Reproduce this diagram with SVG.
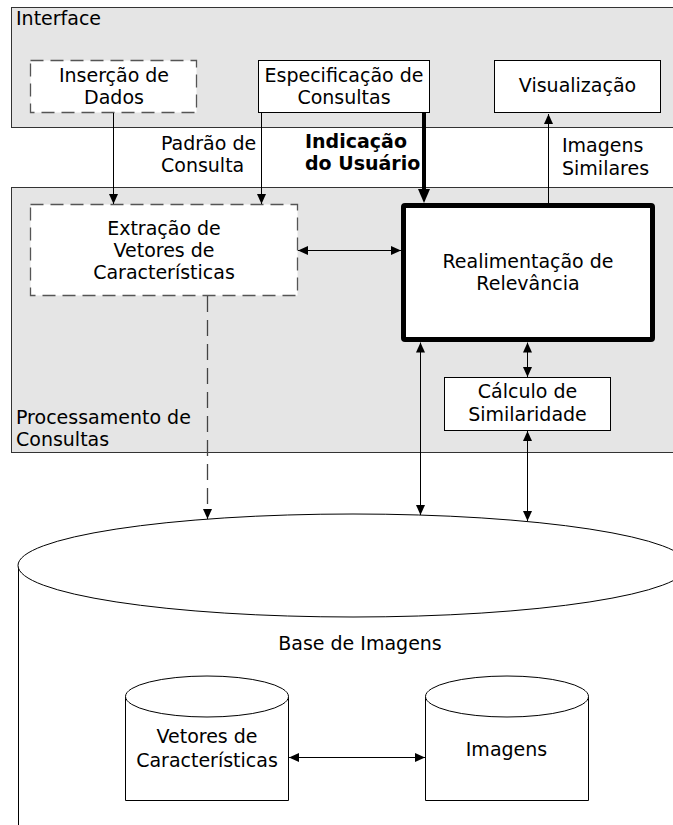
<svg xmlns="http://www.w3.org/2000/svg" width="673" height="825" viewBox="0 0 673 825">
<style>
  text { font-family: "DejaVu Sans", "Liberation Sans", sans-serif; font-size: 19px; fill: #000; }
  .c { text-anchor: middle; }
  .b { font-weight: bold; }
  .panel { fill: #e5e5e5; stroke: #333; stroke-width: 1; }
  .box { fill: #fff; stroke: #000; stroke-width: 1; }
  .dbox { fill: #fff; stroke: #555; stroke-width: 1.3; stroke-dasharray: 13 7; }
  .thick { fill: #fff; stroke: #000; stroke-width: 5; stroke-linejoin: round; }
  .ln { fill: none; stroke: #000; stroke-width: 1; }
  .dln { fill: none; stroke: #444; stroke-width: 1.3; stroke-dasharray: 16 8; }
  .cyl { fill: #fff; stroke: #000; stroke-width: 1; }
</style>
<defs>
  <marker id="ah" markerWidth="10" markerHeight="9" refX="10" refY="4.5" orient="auto-start-reverse" markerUnits="userSpaceOnUse">
    <path d="M0,0 L10,4.5 L0,9 z" fill="#000"/>
  </marker>
  <marker id="ahT" markerWidth="14" markerHeight="12" refX="2" refY="6" orient="auto" markerUnits="userSpaceOnUse">
    <path d="M0,0 L14,6 L0,12 z" fill="#000"/>
  </marker>
</defs>

<g id="panel-interface">
  <rect class="panel" x="11.5" y="7.5" width="700" height="120"/>
  <text x="16" y="25">Interface</text>
</g>
<g id="panel-processamento">
  <rect class="panel" x="11.5" y="187.5" width="700" height="265"/>
  <text x="16" y="424">Processamento de</text>
  <text x="16" y="446">Consultas</text>
</g>

<g id="base-imagens">
  <path class="cyl" d="M18.5,565.5 L18.5,830"/>
  <ellipse class="cyl" cx="353" cy="565.5" rx="335" ry="51.5"/>
  <text class="c" x="360" y="650">Base de Imagens</text>
</g>

<g id="node-insercao">
  <rect class="dbox" x="30.5" y="60.5" width="166" height="52"/>
  <text class="c" x="114" y="82">Inserção de</text>
  <text class="c" x="114" y="104">Dados</text>
</g>
<g id="node-especificacao">
  <rect class="box" x="258.5" y="60.5" width="171" height="52"/>
  <text class="c" x="344" y="82">Especificação de</text>
  <text class="c" x="344" y="104">Consultas</text>
</g>
<g id="node-visualizacao">
  <rect class="box" x="494.5" y="60.5" width="166" height="52"/>
  <text class="c" x="577.5" y="92">Visualização</text>
</g>

<g id="node-extracao">
  <rect class="dbox" x="30.5" y="204.5" width="267" height="91"/>
  <text class="c" x="164" y="235">Extração de</text>
  <text class="c" x="164" y="257">Vetores de</text>
  <text class="c" x="164" y="279">Características</text>
</g>
<g id="node-realimentacao">
  <rect class="thick" x="403.5" y="205.5" width="249" height="134" rx="1.5"/>
  <text class="c" x="528" y="268">Realimentação de</text>
  <text class="c" x="528" y="290">Relevância</text>
</g>
<g id="node-calculo">
  <rect class="box" x="444.5" y="377.5" width="166" height="53"/>
  <text class="c" x="527.5" y="398">Cálculo de</text>
  <text class="c" x="527.5" y="421">Similaridade</text>
</g>

<g id="node-vetores-db">
  <path class="cyl" d="M125.5,696.5 L125.5,800.5 L288.5,800.5 L288.5,696.5"/>
  <ellipse class="cyl" cx="207" cy="696.5" rx="81.5" ry="20.5"/>
  <text class="c" x="207" y="743">Vetores de</text>
  <text class="c" x="207" y="767">Características</text>
</g>
<g id="node-imagens-db">
  <path class="cyl" d="M425.5,696.5 L425.5,800.5 L588.5,800.5 L588.5,696.5"/>
  <ellipse class="cyl" cx="507" cy="696.5" rx="81.5" ry="20.5"/>
  <text class="c" x="506.5" y="756">Imagens</text>
</g>

<g id="connectors">
  <line class="ln" x1="113.5" y1="113" x2="113.5" y2="204" marker-end="url(#ah)"/>
  <line class="ln" x1="261.5" y1="113" x2="261.5" y2="204" marker-end="url(#ah)"/>
  <line fill="none" stroke="#000" stroke-width="4" x1="424" y1="113" x2="424" y2="191" marker-end="url(#ahT)"/>
  <line class="ln" x1="548.5" y1="203" x2="548.5" y2="114" marker-end="url(#ah)"/>
  <line class="ln" x1="298" y1="250.5" x2="401" y2="250.5" marker-start="url(#ah)" marker-end="url(#ah)"/>
  <line class="ln" x1="527.5" y1="342.5" x2="527.5" y2="377" marker-start="url(#ah)" marker-end="url(#ah)"/>
  <line class="ln" x1="420.5" y1="342.5" x2="420.5" y2="515" marker-start="url(#ah)" marker-end="url(#ah)"/>
  <line class="ln" x1="527.5" y1="431" x2="527.5" y2="521" marker-start="url(#ah)" marker-end="url(#ah)"/>
  <line class="dln" x1="207.5" y1="296" x2="207.5" y2="509"/>
  <line class="ln" x1="207.5" y1="509" x2="207.5" y2="519" marker-end="url(#ah)"/>
  <line class="ln" x1="289" y1="757.5" x2="425" y2="757.5" marker-start="url(#ah)" marker-end="url(#ah)"/>
  <text x="161" y="150">Padrão de</text>
  <text x="161" y="172">Consulta</text>
  <text class="b" x="305" y="148">Indicação</text>
  <text class="b" x="305" y="170">do Usuário</text>
  <text x="562" y="152">Imagens</text>
  <text x="562" y="175">Similares</text>
</g>
</svg>
